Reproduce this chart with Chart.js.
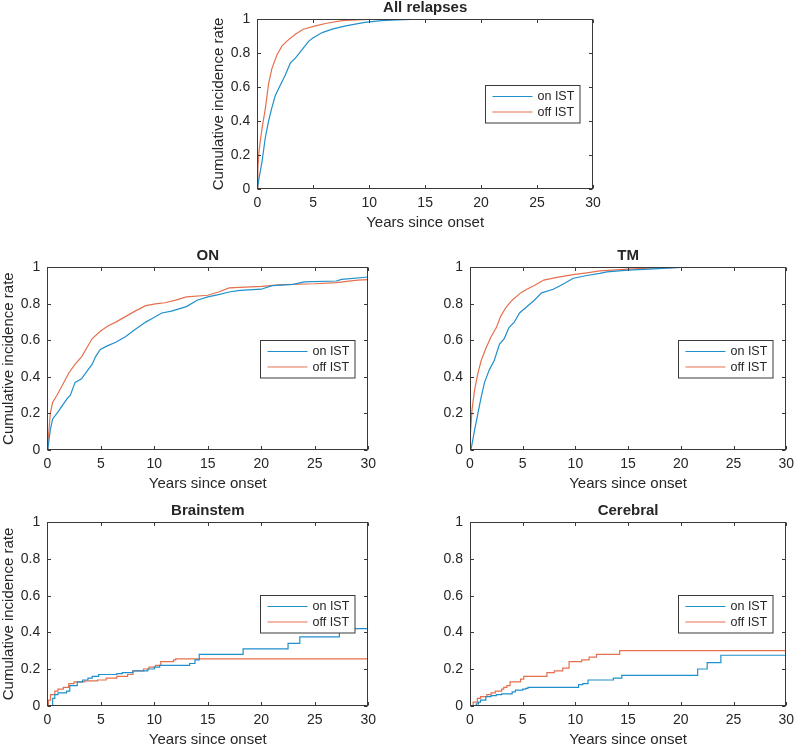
<!DOCTYPE html>
<html><head><meta charset="utf-8">
<script src="https://cdn.jsdelivr.net/npm/chart.js@4"></script>
<style>
html,body{margin:0;padding:0;background:#fff;}
#wrap{position:relative;width:800px;height:748px;overflow:hidden;}
canvas{position:absolute;left:0;top:0;}
</style></head><body><div id="wrap"></div>
<script>
// ---- tick labels / names ----
const xTicks = [0, 5, 10, 15, 20, 25, 30];
const yTicks = [0, 0.2, 0.4, 0.6, 0.8, 1];
const yTickLabels = ['0', '0.2', '0.4', '0.6', '0.8', '1'];
const seriesNames = ['on IST', 'off IST'];
const panelTitles = ['All relapses', 'ON', 'TM', 'Brainstem', 'Cerebral'];
const xAxisTitle = 'Years since onset';
const yAxisTitle = 'Cumulative incidence rate';

// ---- All relapses ----
const allOnX  = [0, 0.2, 0.42, 0.71, 1.01, 1.31, 1.61, 2.05, 2.5, 2.95, 3.4, 4.0, 4.6, 5.0, 5.8, 6.7, 7.9, 9.6, 11.1, 12.5, 15, 30];
const allOnY  = [0, 0.08, 0.16, 0.30, 0.40, 0.48, 0.55, 0.61, 0.67, 0.74, 0.77, 0.82, 0.87, 0.89, 0.92, 0.94, 0.96, 0.98, 0.99, 0.995, 1, 1];
const allOffX = [0, 0.05, 0.15, 0.3, 0.48, 0.71, 1.01, 1.31, 1.76, 2.2, 2.65, 3.4, 4.1, 5.2, 6.2, 7.6, 8.8, 10, 12, 30];
const allOffY = [0, 0.12, 0.22, 0.30, 0.38, 0.47, 0.62, 0.71, 0.79, 0.84, 0.87, 0.91, 0.94, 0.96, 0.975, 0.99, 0.995, 0.998, 1, 1];

// ---- ON ----
const onOnX  = [0, 0.06, 0.28, 0.5, 0.9, 1.37, 1.84, 2.15, 2.6, 3.2, 3.7, 4.2, 4.5, 4.95, 5.6, 6.4, 7.3, 8.2, 9.2, 9.8, 10.7, 11.6, 12, 13, 14, 15, 16, 17, 18, 20, 21, 23, 24, 27, 27.5, 30];
const onOnY  = [0, 0.01, 0.11, 0.17, 0.20, 0.24, 0.28, 0.30, 0.37, 0.39, 0.43, 0.47, 0.51, 0.55, 0.57, 0.59, 0.62, 0.66, 0.70, 0.72, 0.75, 0.76, 0.767, 0.785, 0.82, 0.838, 0.85, 0.865, 0.874, 0.88, 0.90, 0.907, 0.92, 0.925, 0.934, 0.947];
const onOffX = [0, 0.06, 0.28, 0.5, 0.9, 1.37, 2.0, 2.6, 3.2, 3.7, 4.2, 4.95, 5.7, 6.4, 7.3, 8.2, 9.2, 10.1, 11, 12, 13, 15, 16, 17, 20, 22, 25, 27, 29, 30];
const onOffY = [0, 0.04, 0.20, 0.26, 0.30, 0.35, 0.42, 0.47, 0.51, 0.56, 0.61, 0.65, 0.68, 0.70, 0.73, 0.76, 0.79, 0.80, 0.806, 0.82, 0.838, 0.847, 0.865, 0.887, 0.896, 0.905, 0.91, 0.916, 0.93, 0.933];

// ---- TM ----
const tmOnX  = [0, 0.12, 0.44, 0.75, 1.06, 1.38, 1.84, 2.3, 2.8, 3.25, 3.7, 4.2, 4.7, 5.3, 6.1, 6.8, 7.9, 8.9, 9.8, 11.1, 12.3, 13, 15, 17, 20, 30];
const tmOnY  = [0, 0.01, 0.11, 0.20, 0.29, 0.37, 0.44, 0.49, 0.58, 0.61, 0.67, 0.70, 0.75, 0.78, 0.82, 0.86, 0.88, 0.91, 0.94, 0.955, 0.967, 0.975, 0.985, 0.99, 1, 1];
const tmOffX = [0, 0.02, 0.19, 0.44, 0.75, 1.06, 1.53, 2.0, 2.5, 2.9, 3.4, 4.0, 4.8, 5.4, 6.1, 7.0, 8.25, 9.8, 11.1, 12.3, 15, 17, 20, 30];
const tmOffY = [0, 0.07, 0.22, 0.33, 0.42, 0.49, 0.56, 0.62, 0.67, 0.73, 0.78, 0.82, 0.86, 0.88, 0.90, 0.93, 0.945, 0.96, 0.97, 0.98, 0.99, 0.995, 1, 1];

// ---- Brainstem (step curves) ----
const bsOnX  = [0, 0.5, 0.7, 1.0, 1.8, 2.1, 2.8, 3.3, 3.8, 4.2, 4.8, 6.5, 7.0, 8.0, 9.4, 10.0, 10.5, 13.3, 13.8, 14.2, 18.3, 22.5, 23.6, 27.3, 30];
const bsOnY  = [0, 0.04, 0.06, 0.07, 0.08, 0.11, 0.13, 0.14, 0.15, 0.16, 0.17, 0.175, 0.18, 0.19, 0.20, 0.21, 0.22, 0.23, 0.25, 0.28, 0.31, 0.34, 0.375, 0.42, 0.42];
const bsOffX = [0, 0.1, 0.3, 0.7, 1.0, 1.5, 2.0, 2.5, 3.5, 4.7, 5.5, 6.5, 7.5, 8.0, 9.0, 9.5, 10.1, 10.6, 11.8, 12.0, 30];
const bsOffY = [0, 0.03, 0.06, 0.08, 0.09, 0.10, 0.12, 0.13, 0.135, 0.14, 0.15, 0.16, 0.17, 0.19, 0.20, 0.21, 0.22, 0.24, 0.25, 0.255, 0.255];

// ---- Cerebral (step curves) ----
const ceOnX  = [0, 0.6, 0.8, 1.0, 1.5, 2.0, 2.5, 3.0, 4.0, 4.3, 5.0, 5.3, 5.5, 10.3, 10.7, 11.2, 13.6, 14.4, 21.6, 22.5, 23.8, 30];
const ceOnY  = [0, 0.01, 0.02, 0.03, 0.05, 0.055, 0.06, 0.065, 0.075, 0.085, 0.09, 0.095, 0.10, 0.115, 0.12, 0.14, 0.15, 0.165, 0.20, 0.235, 0.275, 0.275];
const ceOffX = [0, 0.3, 0.7, 1.0, 1.6, 2.0, 2.4, 3.0, 3.2, 3.5, 3.8, 4.8, 5.1, 7.3, 8.0, 8.8, 9.4, 10.6, 11.3, 12.0, 14.2, 30];
const ceOffY = [0, 0.02, 0.04, 0.05, 0.06, 0.07, 0.08, 0.09, 0.10, 0.11, 0.13, 0.145, 0.16, 0.18, 0.19, 0.205, 0.24, 0.25, 0.265, 0.28, 0.30, 0.30];

// ---- styling ----
const TXT = '#262626';
const FONT = "'Liberation Sans', Arial, Helvetica, sans-serif";
const BLUE = '#2090cc';
const ORANGE = '#e5704e';

const panels = [
  { title: panelTitles[0], box: {l: 257.3, r: 593, t: 19, b: 189}, yLabel: true, step: false, on: [allOnX, allOnY], off: [allOffX, allOffY] },
  { title: panelTitles[1], box: {l: 47.3, r: 368.3, t: 267.3, b: 450}, yLabel: true, step: false, on: [onOnX, onOnY], off: [onOffX, onOffY] },
  { title: panelTitles[2], box: {l: 470, r: 790.5, t: 267.3, b: 450}, yLabel: false, step: false, on: [tmOnX, tmOnY], off: [tmOffX, tmOffY] },
  { title: panelTitles[3], box: {l: 47.3, r: 368.3, t: 522.3, b: 705.7}, yLabel: true, step: true, on: [bsOnX, bsOnY], off: [bsOffX, bsOffY] },
  { title: panelTitles[4], box: {l: 470, r: 790.5, t: 522.3, b: 705.7}, yLabel: false, step: true, on: [ceOnX, ceOnY], off: [ceOffX, ceOffY] }
];

const matlabAxes = {
  id: 'matlabAxes',
  afterDatasetsDraw(chart) {
    const {ctx, chartArea: a, scales: {x, y}} = chart;
    ctx.save();
    const L = Math.round(a.left) + 0.5, R = Math.round(a.right) - 0.5;
    const T = Math.round(a.top) + 0.5, B = Math.round(a.bottom) - 0.5;
    ctx.strokeStyle = '#3a3a3a';
    ctx.lineWidth = 1;
    const tl = 3.5;
    ctx.beginPath();
    x.ticks.forEach(t => {
      const px = Math.round(x.getPixelForValue(t.value)) + 0.5;
      ctx.moveTo(px, B); ctx.lineTo(px, B - tl);
      ctx.moveTo(px, T); ctx.lineTo(px, T + tl);
    });
    y.ticks.forEach(t => {
      const py = Math.round(y.getPixelForValue(t.value)) + 0.5;
      ctx.moveTo(L, py); ctx.lineTo(L + tl, py);
      ctx.moveTo(R, py); ctx.lineTo(R - tl, py);
    });
    ctx.stroke();
    ctx.strokeRect(L, T, R - L, B - T);

    // legend (east, inside)
    const w = 94.5, h = 37.5;
    const lx = Math.round(a.right - 13.5 - w) + 0.5;
    const ly = Math.round((a.top + a.bottom) / 2 - h / 2) + 0.5;
    ctx.fillStyle = '#ffffff';
    ctx.fillRect(lx, ly, w, h);
    ctx.strokeStyle = '#3a3a3a';
    ctx.lineWidth = 1;
    ctx.strokeRect(lx, ly, w, h);
    ctx.font = '12.5px ' + FONT;
    ctx.textBaseline = 'middle';
    ctx.textAlign = 'left';
    chart.data.datasets.forEach((ds, i) => {
      const ry = ly + 11 + i * 15.5;
      ctx.strokeStyle = ds.borderColor;
      ctx.lineWidth = 1.2;
      ctx.beginPath();
      ctx.moveTo(lx + 7, ry); ctx.lineTo(lx + 47, ry);
      ctx.stroke();
      ctx.fillStyle = TXT;
      ctx.fillText(ds.label, lx + 52, ry + 0.5);
    });
    ctx.restore();
  }
};

const wrap = document.getElementById('wrap');
panels.forEach(p => {
  const cv = document.createElement('canvas');
  cv.width = 800; cv.height = 748;
  cv.style.width = '800px'; cv.style.height = '748px';
  wrap.appendChild(cv);
  const yW = p.yLabel ? 45.5 : 40;
  const xH = 41.5;
  const mk = (arr) => arr[0].map((v, i) => ({x: v, y: arr[1][i]}));
  new Chart(cv.getContext('2d'), {
    type: 'line',
    data: {
      datasets: [
        { label: seriesNames[0], data: mk(p.on), borderColor: BLUE, borderWidth: 1.2, pointRadius: 0, fill: false, stepped: p.step, tension: 0 },
        { label: seriesNames[1], data: mk(p.off), borderColor: ORANGE, borderWidth: 1.2, pointRadius: 0, fill: false, stepped: p.step, tension: 0 }
      ]
    },
    options: {
      responsive: false,
      animation: false,
      devicePixelRatio: 1,
      events: [],
      layout: { padding: { left: p.box.l - yW, right: 800 - p.box.r, top: p.box.t - 18.5, bottom: 748 - p.box.b - xH } },
      plugins: {
        legend: { display: false },
        tooltip: { enabled: false },
        title: { display: true, text: p.title, color: TXT, fullSize: false, font: { family: FONT, size: 15, weight: 'bold', lineHeight: 1 }, padding: { top: 0, bottom: 3.5 } }
      },
      scales: {
        x: {
          type: 'linear', min: 0, max: 30,
          afterBuildTicks: s => { s.ticks = xTicks.map(v => ({value: v})); },
          ticks: { color: TXT, font: { family: FONT, size: 14 }, padding: 6, maxRotation: 0, autoSkip: false, callback: v => String(v) },
          grid: { display: false, drawTicks: false, tickLength: 0 },
          border: { display: false },
          title: { display: true, text: xAxisTitle, color: TXT, font: { family: FONT, size: 15, lineHeight: 1 }, padding: 0 },
          afterFit: s => { s.height = xH; }
        },
        y: {
          type: 'linear', min: 0, max: 1,
          afterBuildTicks: s => { s.ticks = yTicks.map(v => ({value: v})); },
          ticks: { color: TXT, font: { family: FONT, size: 14 }, padding: 7, autoSkip: false, callback: (v) => yTickLabels[yTicks.indexOf(v)] },
          grid: { display: false, drawTicks: false, tickLength: 0 },
          border: { display: false },
          title: { display: p.yLabel, text: yAxisTitle, color: TXT, font: { family: FONT, size: 15, lineHeight: 1 }, padding: 0 },
          afterFit: s => { s.width = yW; }
        }
      }
    },
    plugins: [matlabAxes]
  });
});
</script>
</body></html>
